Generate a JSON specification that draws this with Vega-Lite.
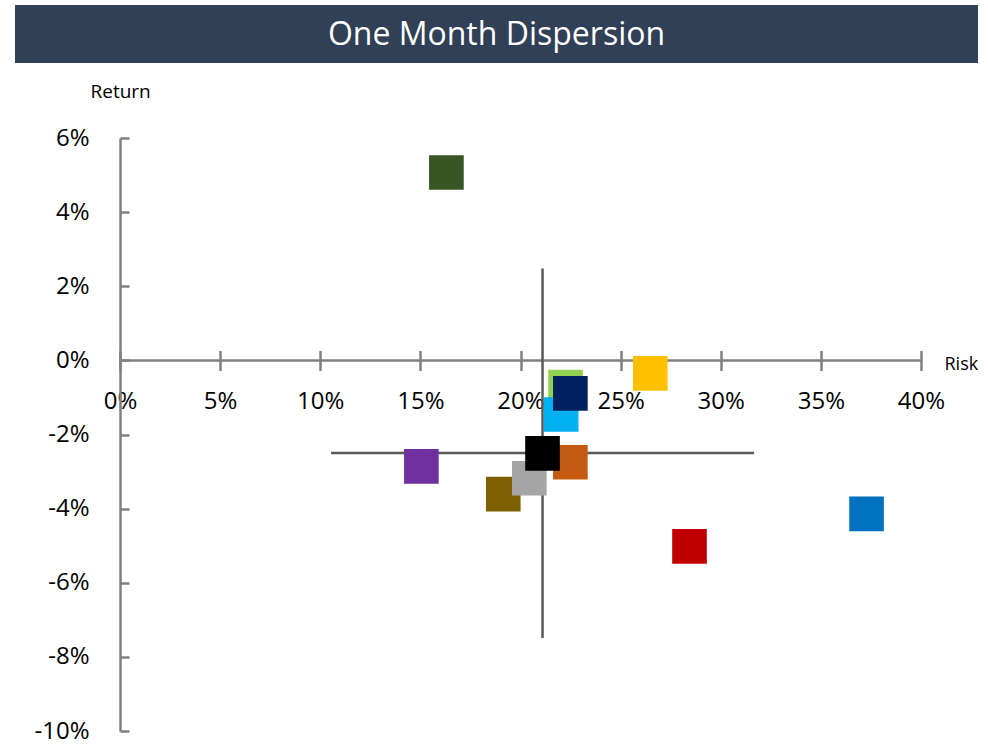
{
  "$schema": "https://vega.github.io/schema/vega-lite/v6.json",
  "width": 801,
  "height": 593,
  "autosize": {"type": "none"},
  "padding": {"left": 120, "top": 138, "right": 67, "bottom": 21},
  "background": "#ffffff",
  "config": {
    "view": {"stroke": null},
    "axis": {
      "grid": false,
      "labelFont": "Open Sans",
      "labelFontSize": 24,
      "labelColor": "#000000",
      "titleFont": "Open Sans",
      "titleFontSize": 19,
      "titleFontWeight": "normal",
      "titleColor": "#000000"
    }
  },
  "datasets": {
    "points": [
      {"series": "S1", "risk": 0.1630, "ret": 0.0507},
      {"series": "S2", "risk": 0.2648, "ret": -0.0035},
      {"series": "S3", "risk": 0.2844, "ret": -0.0502},
      {"series": "S4", "risk": 0.3728, "ret": -0.0414},
      {"series": "S5", "risk": 0.1505, "ret": -0.0286},
      {"series": "S6", "risk": 0.2225, "ret": -0.0072},
      {"series": "S7", "risk": 0.2203, "ret": -0.0146},
      {"series": "S8", "risk": 0.2249, "ret": -0.0089},
      {"series": "S9", "risk": 0.1914, "ret": -0.0361},
      {"series": "S10", "risk": 0.2044, "ret": -0.0318},
      {"series": "S11", "risk": 0.2249, "ret": -0.0275},
      {"series": "S12", "risk": 0.2110, "ret": -0.0251}
    ],
    "cross": [
      {"risk": 0.1054, "risk2": 0.3166, "ret": -0.0250, "ret2": -0.0250},
      {"risk": 0.2110, "risk2": 0.2110, "ret": 0.0248, "ret2": -0.0749}
    ],
    "one": [{}]
  },
  "layer": [
    {
      "data": {"name": "one"},
      "mark": {"type": "rule", "color": "#808080", "strokeWidth": 2.5},
      "encoding": {
        "y": {"datum": 0, "type": "quantitative", "scale": {"domain": [-0.1, 0.06], "nice": false, "zero": false}}
      }
    },
    {
      "data": {"name": "cross"},
      "mark": {"type": "rule", "color": "#595959", "strokeWidth": 2.5},
      "encoding": {
        "x": {"field": "risk", "type": "quantitative", "scale": {"domain": [0, 0.4], "nice": false, "zero": false}},
        "x2": {"field": "risk2"},
        "y": {"field": "ret", "type": "quantitative", "scale": {"domain": [-0.1, 0.06], "nice": false, "zero": false}},
        "y2": {"field": "ret2"}
      }
    },
    {
      "data": {"name": "points"},
      "mark": {"type": "point", "shape": "square", "filled": true, "opacity": 1, "size": 1200, "strokeWidth": 0},
      "encoding": {
        "x": {
          "field": "risk", "type": "quantitative",
          "scale": {"domain": [0, 0.4], "nice": false, "zero": false},
          "axis": {
            "orient": "bottom",
            "offset": -380.5,
            "values": [0, 0.05, 0.1, 0.15, 0.2, 0.25, 0.3, 0.35, 0.4],
            "labelExpr": "round(datum.value*100) + '%'",
            "domain": false,
            "ticks": true,
            "tickSize": 20,
            "tickColor": "#808080",
            "tickWidth": 2.5,
            "labelPadding": 19,
            "labelFlush": false,
            "labelOverlap": false,
            "title": "Risk",
            "titleFontSize": 18,
            "titleX": 824,
            "titleY": 18.5,
            "titleAlign": "left",
            "titleBaseline": "alphabetic",
            "titleAnchor": "start"
          }
        },
        "y": {
          "field": "ret", "type": "quantitative",
          "scale": {"domain": [-0.1, 0.06], "nice": false, "zero": false},
          "axis": {
            "orient": "left",
            "values": [-0.1, -0.08, -0.06, -0.04, -0.02, 0, 0.02, 0.04, 0.06],
            "labelExpr": "round(datum.value*100) + '%'",
            "domain": true,
            "domainColor": "#808080",
            "domainWidth": 2.5,
            "ticks": true,
            "tickSize": -9,
            "tickColor": "#808080",
            "tickWidth": 2.5,
            "labelPadding": 40,
            "labelFlush": false,
            "labelOverlap": false,
            "title": "Return",
            "titleAngle": 0,
            "titleX": -30,
            "titleY": -40.5,
            "titleAlign": "left",
            "titleBaseline": "alphabetic",
            "titleAnchor": "start"
          }
        },
        "color": {
          "field": "series", "type": "nominal",
          "scale": {
            "domain": ["S1", "S2", "S3", "S4", "S5", "S6", "S7", "S8", "S9", "S10", "S11", "S12"],
            "range": ["#375623", "#FFC000", "#C00000", "#0070C0", "#7030A0", "#92D050", "#00B0F0", "#002060", "#7F6000", "#A5A5A5", "#C55A11", "#000000"]
          },
          "legend": null
        }
      }
    },
    {
      "data": {"name": "one"},
      "mark": {"type": "rect", "color": "#2F4057"},
      "encoding": {
        "x": {"datum": -0.05243, "type": "quantitative", "scale": {"domain": [0, 0.4], "nice": false, "zero": false}},
        "x2": {"datum": 0.42846},
        "y": {"datum": 0.09589, "type": "quantitative", "scale": {"domain": [-0.1, 0.06], "nice": false, "zero": false}},
        "y2": {"datum": 0.08024}
      }
    },
    {
      "data": {"name": "one"},
      "mark": {"type": "text", "color": "#ffffff", "font": "Open Sans", "fontSize": 32, "align": "center", "baseline": "alphabetic"},
      "encoding": {
        "x": {"datum": 0.18801, "type": "quantitative", "scale": {"domain": [0, 0.4], "nice": false, "zero": false}},
        "y": {"datum": 0.0850, "type": "quantitative", "scale": {"domain": [-0.1, 0.06], "nice": false, "zero": false}},
        "text": {"value": "One Month Dispersion"}
      }
    }
  ]
}
